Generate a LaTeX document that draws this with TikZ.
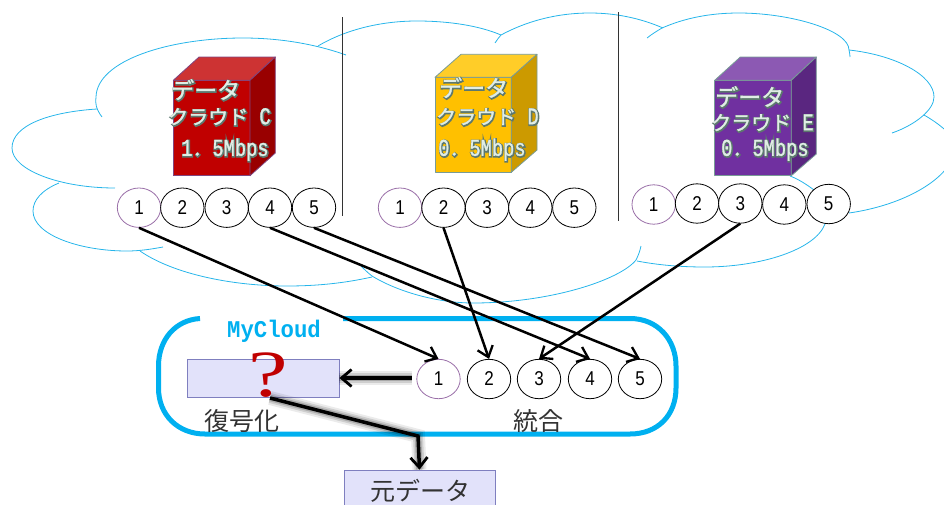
\documentclass[tikz,border=0pt]{standalone}
\usepackage{fontspec}
\usetikzlibrary{shapes.geometric,arrows.meta,calc}
\newfontfamily\cjk{Noto Sans CJK JP}
\newfontfamily\monof{Liberation Mono}
\newfontfamily\monon[FakeStretch=0.78]{Liberation Mono}
\newfontfamily\monoc[FakeStretch=0.93]{Liberation Mono}
\newfontfamily\numf[FakeStretch=0.85]{Liberation Sans}
\newfontfamily\serf[FakeStretch=1.35]{Liberation Serif}
\definecolor{cloudc}{HTML}{27B5EA}
\definecolor{sky}{HTML}{00B0F0}
\definecolor{boxfill}{HTML}{E2E2FA}
\definecolor{boxedge}{HTML}{7F7FBF}
\definecolor{chip1}{HTML}{9A6FA8}
\newcommand{\waoff}{\special{pdf:code 0 Tr 0 0 0 rg 0 0 0 RG}}
\newcommand{\wa}[1]{\raisebox{-0.8pt}{\rlap{\hspace{0.6pt}\special{pdf:code 2 Tr 2.2 w 0.36 0.47 0.43 RG 0.36 0.47 0.43 rg}#1\waoff}}\special{pdf:code 2 Tr 0.25 w 0.88 0.93 0.90 RG 0.88 0.93 0.90 rg}#1\waoff}
\tikzset{
  cl/.style={draw=cloudc,line width=0.8pt},
  chip/.style={ellipse,draw=black,fill=white,line width=0.8pt,minimum width=43.4pt,minimum height=39.4pt,inner sep=0pt,font=\numf\fontsize{20}{20}\selectfont},
  chipa/.style={chip,draw=chip1},
  flow/.style={draw=black,line width=2.5pt,-{Straight Barb[length=10pt,width=16pt,line width=2.3pt]}},
  softflow/.style={draw=black,line width=3.5pt,-{Straight Barb[length=10pt,width=17pt,line width=2.8pt]},
    preaction={draw=black,opacity=.08,line width=14pt,-},
    preaction={draw=black,opacity=.12,line width=10pt,-},
    preaction={draw=black,opacity=.18,line width=6.5pt,-}},
  divider/.style={draw=black!80,line width=1pt},
  plain/.style={draw=boxedge,fill=boxfill,line width=0.8pt,inner sep=0pt},
  lab/.style={inner sep=0pt,anchor=west,font=\monon\fontsize{24}{24}\selectfont},
  jp/.style={inner sep=0pt,text=black!80,font=\cjk\fontsize{25}{27}\selectfont},
}
\newcommand{\jpw}[1]{{\cjk\fontsize{20}{22}\selectfont #1}}
\newcommand{\jpb}[1]{{\cjk\fontsize{23}{24}\selectfont #1}}
\begin{document}
\begin{tikzpicture}[x=1pt,y=-1pt]
\useasboundingbox (0,0) rectangle (944,504);
% clouds
\draw[cl] (102,117) .. controls (96,109) and (95,103) .. (96,97) .. controls (97,60) and (170,38) .. (243,38) .. controls (280,38) and (315,44) .. (346,55);
\draw[cl] (97,109) .. controls (50,112) and (12,125) .. (12,148) .. controls (12,170) and (60,188) .. (115,188);
\draw[cl] (59,183) .. controls (42,190) and (33,200) .. (33,211) .. controls (33,235) and (80,251) .. (127,251) .. controls (140,251) and (152,249) .. (163,247);
\draw[cl] (140,251) .. controls (175,275) and (235,286) .. (287,286) .. controls (318,286) and (345,283) .. (372,277);
\draw[cl] (360,265) .. controls (364,269) and (368,273) .. (372,276) .. controls (400,293) and (440,303) .. (473,303) .. controls (550,303) and (620,280) .. (636,260) .. controls (638,256) and (640,251) .. (641,246);
\draw[cl] (318,46) .. controls (345,30) and (380,21) .. (417,21) .. controls (450,21) and (480,26) .. (501,35);
\draw[cl] (495,43) .. controls (497,40) and (499,37) .. (501,35) .. controls (525,22) and (555,13) .. (590,13) .. controls (615,13) and (640,18) .. (663,28);
\draw[cl] (647,38) .. controls (652,34) and (657,31) .. (662,28) .. controls (685,18) and (710,13) .. (739,13) .. controls (790,13) and (849,30) .. (849,50) .. controls (849.5,52) and (850,55) .. (850,57);
\draw[cl] (849,50) .. controls (895,55) and (934,75) .. (934,97) .. controls (934,110) and (915,125) .. (892,133);
\draw[cl] (924,115) .. controls (945,127) and (960,142) .. (955,150) .. controls (951,178) and (905,205) .. (849,213);
\draw[cl] (825,224) .. controls (815,250) and (760,267) .. (705,267) .. controls (680,267) and (658,265) .. (637,261);
\draw[cl] (790,176) .. controls (798,179) and (806,184) .. (814,190);
% dividers
\coordinate (d1a) at (342,17); \coordinate (d1b) at (342,216);
\coordinate (d2a) at (618,12); \coordinate (d2b) at (618,221);
\draw[divider] (d1a) -- (d1b);
\draw[divider] (d2a) -- (d2b);
% cube C
\begin{scope}[draw=violet!45!gray,line width=0.8pt,line join=round]
\filldraw[fill={rgb,255:red,192;green,0;blue,0}] (173.3,80.3) rectangle (250,175.7);
\filldraw[fill={rgb,255:red,205;green,51;blue,51}] (173.3,80.3) -- (199,57) -- (275.3,57) -- (250,80.3) -- cycle;
\filldraw[fill={rgb,255:red,153;green,0;blue,0}] (250,80.3) -- (275.3,57) -- (275.3,153) -- (250,175.7) -- cycle;
\end{scope}
% cube D
\begin{scope}[draw={rgb,255:red,120;green,155;blue,150},line width=0.8pt,line join=round]
\filldraw[fill={rgb,255:red,255;green,192;blue,0}] (435,77.3) rectangle (511.3,172.3);
\filldraw[fill={rgb,255:red,255;green,205;blue,40}] (435,77.3) -- (461,54.3) -- (537,54.3) -- (511.3,77.3) -- cycle;
\filldraw[fill={rgb,255:red,204;green,154;blue,0}] (511.3,77.3) -- (537,54.3) -- (537,150) -- (511.3,172.3) -- cycle;
\end{scope}
% cube E
\begin{scope}[draw={rgb,255:red,120;green,155;blue,150},line width=0.8pt,line join=round]
\filldraw[fill={rgb,255:red,112;green,48;blue,160}] (714.7,80.3) rectangle (791.3,175.7);
\filldraw[fill={rgb,255:red,140;green,89;blue,179}] (714.7,80.3) -- (740.3,57) -- (816.3,57) -- (791.3,80.3) -- cycle;
\filldraw[fill={rgb,255:red,90;green,38;blue,128}] (791.3,80.3) -- (816.3,57) -- (816.3,154) -- (791.3,175.7) -- cycle;
\end{scope}
% cube labels
\node[lab] (c1t) at (171,90) {\wa{\jpb{データ}}};
\node[lab] (c2t) at (168,117) {\wa{\jpw{クラウド}\ C}};
\node[lab] (c3t) at (181,150) {\wa{1\jpw{．}5Mbps}};
\node[lab] (d1t) at (439,88) {\wa{\jpb{データ}}};
\node[lab] (d2t) at (436,117) {\wa{\jpw{クラウド}\ D}};
\node[lab] (d3t) at (438,150) {\wa{0\jpw{．}5Mbps}};
\node[lab] (e1t) at (715,97) {\wa{\jpb{データ}}};
\node[lab] (e2t) at (711,123) {\wa{\jpw{クラウド}\ E}};
\node[lab] (e3t) at (721,150) {\wa{0\jpw{．}5Mbps}};
% source chips
\node[chipa] (c1) at (139,207.7) {1};
\node[chip] (c2) at (182.3,207.7) {2};
\node[chip] (c3) at (226.7,207.7) {3};
\node[chip] (c4) at (270,207.7) {4};
\node[chip] (c5) at (314,207.7) {5};
\node[chipa] (d1) at (400,207.7) {1};
\node[chip] (d2) at (443.5,207.7) {2};
\node[chip] (d3) at (487,207.7) {3};
\node[chip] (d4) at (530.3,207.7) {4};
\node[chip] (d5) at (574.3,207.7) {5};
\node[chipa] (e1) at (653.7,204.5) {1};
\node[chip] (e2) at (697,203.5) {2};
\node[chip] (e3) at (740.3,203.5) {3};
\node[chip] (e4) at (784.3,204.5) {4};
\node[chip] (e5) at (828.7,204) {5};
% MyCloud frame
\draw[draw=sky,line width=5pt] (200,318.5) .. controls (175,320) and (158.5,340) .. (158.5,366) -- (158.5,388) .. controls (158.5,415) and (178,434) .. (205,434) -- (630,434) .. controls (658,434) and (676,415) .. (676,388) -- (676,366) .. controls (676,340) and (658,318.5) .. (630,318.5) -- (343,318.5);
\node[inner sep=0pt,text=sky,font=\monoc\bfseries\fontsize{24}{24}\selectfont] (mc) at (274,331) {MyCloud};
% target chips
\node[chipa] (m1) at (438.5,379) {1};
\node[chip] (m2) at (489,379) {2};
\node[chip] (m3) at (539,379) {3};
\node[chip] (m4) at (590,379) {4};
\node[chip] (m5) at (640,379) {5};
% boxes
\node[plain,minimum width=152pt,minimum height=38pt] (dec) at (263,378) {};
\node[inner sep=0pt,text={rgb,255:red,192;green,0;blue,0},font=\serf\fontsize{66}{66}\selectfont] (q) at (268,375) {?};
\node[jp] (dect) at (242,421) {復号化};
\node[jp] (mrg) at (538,421) {統合};
\node[plain,minimum width=151pt,minimum height=40pt] (orig) at (419.5,490) {};
\node[jp] (origt) at (420,491) {元データ};
% connectors
\draw[flow] (c1.south) -- (m1.north);
\draw[flow] (c4.south) -- (m4.north);
\draw[flow] (c5.south) -- (m5.north);
\draw[flow] (d2.south) -- (m2.north);
\draw[flow] (e3.south) -- (m3.north);
\coordinate (a1) at (412,378);
\draw[softflow] (a1) -- (dec.east);
\coordinate (b0) at (270,398);
\coordinate (b1) at (418,436);
\draw[softflow] (b0) -- (b1) -- (orig.north);
\end{tikzpicture}
\end{document}
